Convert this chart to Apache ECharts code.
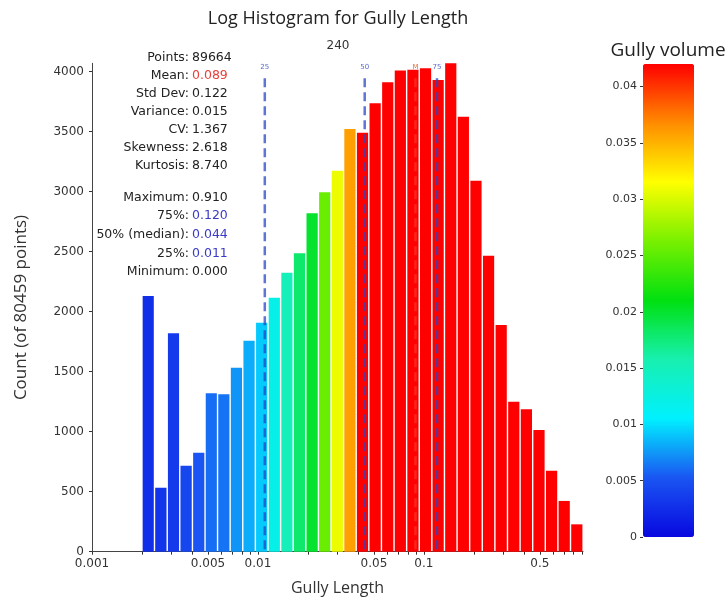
<!DOCTYPE html>
<html>
<head>
<meta charset="utf-8">
<script src="https://cdn.jsdelivr.net/npm/echarts@6/dist/echarts.min.js"></script>
<style>
  html, body { margin: 0; padding: 0; background: #ffffff; }
  #chart { width: 728px; height: 608px; }
</style>
</head>
<body>
<div id="chart"></div>
<script>
// Log-spaced bin edges (gully length) and the count in each bin
const binEdges = [0.00200, 0.00238, 0.00284, 0.00338, 0.00403, 0.00480, 0.00571, 0.00680,
  0.00810, 0.00965, 0.01150, 0.01370, 0.01631, 0.01943, 0.02315, 0.02757, 0.03284, 0.03911,
  0.04659, 0.05550, 0.06611, 0.07874, 0.09379, 0.11172, 0.13307, 0.15851, 0.18881, 0.22490,
  0.26789, 0.31910, 0.38009, 0.45275, 0.53929, 0.64238, 0.76517, 0.91143];
const binCounts = [2131, 533, 1820, 717, 825, 1320, 1312, 1533, 1758, 1908, 2117, 2325,
  2487, 2820, 2995, 3175, 3522, 3492, 3737, 3912, 4010, 4016, 4028, 3931, 4070, 3625,
  3092, 2467, 1889, 1250, 1187, 1014, 675, 423, 228];
// Gully volume of each bin, used for the bar colour
const binVolume = [0.0026, 0.0030, 0.0034, 0.0042, 0.0052, 0.0061, 0.0063, 0.0074, 0.0082,
  0.0092, 0.0120, 0.0150, 0.0180, 0.0200, 0.0256, 0.0308, 0.0359, 0.0440, 0.0470, 0.0500,
  0.0530, 0.0560, 0.0590, 0.0620, 0.0650, 0.0680, 0.0710, 0.0740, 0.0770, 0.0800, 0.0830,
  0.0860, 0.0890, 0.0920, 0.0950];

// Summary statistics
const summaryLabels = ['Points', 'Mean', 'Std Dev', 'Variance', 'CV', 'Skewness', 'Kurtosis'];
const summaryValues = [89664, 0.089, 0.122, 0.015, 1.367, 2.618, 8.740];
const rangeLabels = ['Maximum', '75%', '50% (median)', '25%', 'Minimum'];
const rangeValues = [0.910, 0.120, 0.044, 0.011, 0.000];

// Axis tick labels
const xTickLabels = [0.001, 0.005, 0.01, 0.05, 0.1, 0.5];
const yTickLabels = [0, 500, 1000, 1500, 2000, 2500, 3000, 3500, 4000];
const colorTickLabels = [0, 0.005, 0.01, 0.015, 0.02, 0.025, 0.03, 0.035, 0.04];

const xMin = 0.001;
const xMax = rangeValues[0];
const volumeMax = 0.042;

// Reference lines: quartiles and mean
const markerNames = ['25', '50', 'M', '75'];
const markerValues = [rangeValues[3], rangeValues[2], summaryValues[1], rangeValues[1]];
const markerColors = ['rgba(40,70,200,0.75)', 'rgba(40,70,200,0.75)', 'rgba(255,40,30,0.9)', 'rgba(40,70,200,0.75)'];
const markerTextColors = ['#5a6ac8', '#5a6ac8', '#e86a3a', '#5a6ac8'];

const lg = Math.log10;

// minor ticks at 1..9 x 10^k inside the axis range
const xMinorTicks = [];
for (let d = -3; d <= -1; d++) {
  for (let k = 1; k <= 9; k++) {
    const v = k * Math.pow(10, d);
    if (v <= xMax) xMinorTicks.push(lg(v));
  }
}

const barData = binCounts.map((c, i) => [lg(binEdges[i]), lg(binEdges[i + 1]), c, binVolume[i]]);
const markerData = markerValues.map((v, i) => [lg(v), 0, i]);

const fmtLen = v => String(parseFloat(Math.pow(10, v).toPrecision(3)));
const fmtStat = (v, i) => (i === 0 ? String(v) : v.toFixed(3));

const chart = echarts.init(document.getElementById('chart'), null, { renderer: 'canvas' });

const tickFont = { fontFamily: 'DejaVu Sans', fontSize: 12, color: '#333' };
const statFont = '12.5px "DejaVu Sans"';

const summaryLabelText = summaryLabels.map(s => s + ':').join('\n');
const summaryValueText = summaryValues.map((v, i) => (i === 1 ? '{r|' + fmtStat(v, i) + '}' : fmtStat(v, i))).join('\n');
const rangeLabelText = rangeLabels.map(s => s + ':').join('\n');
const rangeValueText = rangeValues.map((v, i) => (i >= 1 && i <= 3 ? '{b|' + v.toFixed(3) + '}' : v.toFixed(3))).join('\n');

const option = {
  backgroundColor: '#ffffff',
  animation: false,
  grid: [
    { left: 92, right: 145, top: 63.3, bottom: 56.3 },
    { left: 643, top: 64, width: 51, height: 473 }
  ],
  xAxis: [
    {
      type: 'value', gridIndex: 0, min: lg(xMin), max: lg(xMax),
      name: 'Gully Length', nameLocation: 'middle', nameGap: 29,
      nameTextStyle: { fontFamily: 'Open Sans', fontSize: 16, color: '#333' },
      axisLine: { show: true, lineStyle: { color: '#444', width: 1 } },
      axisTick: { show: true, customValues: xMinorTicks, length: 3, lineStyle: { color: '#333' } },
      axisLabel: { customValues: xTickLabels.map(lg), formatter: fmtLen, margin: 6, ...tickFont },
      splitLine: { show: false }
    },
    { type: 'value', gridIndex: 1, min: 0, max: 1, show: false }
  ],
  yAxis: [
    {
      type: 'value', gridIndex: 0, min: 0, max: Math.max(...binCounts),
      name: 'Count (of 80459 points)', nameLocation: 'middle', nameGap: 62,
      nameTextStyle: { fontFamily: 'Open Sans', fontSize: 17, color: '#333' },
      axisLine: { show: true, lineStyle: { color: '#444', width: 1 } },
      axisTick: { show: true, customValues: yTickLabels, length: 3, lineStyle: { color: '#333' } },
      axisLabel: { customValues: yTickLabels, margin: 8, formatter: v => String(v), ...tickFont },
      splitLine: { show: false }
    },
    {
      type: 'value', gridIndex: 1, min: 0, max: volumeMax,
      axisLine: { show: false },
      axisTick: { show: true, customValues: colorTickLabels, length: 3, lineStyle: { color: '#333' } },
      axisLabel: { customValues: colorTickLabels, margin: 6, formatter: v => String(parseFloat(v.toFixed(3))), fontFamily: 'DejaVu Sans', fontSize: 11, color: '#333' },
      splitLine: { show: false }
    }
  ],
  visualMap: {
    type: 'continuous',
    min: 0, max: volumeMax,
    dimension: 3, seriesIndex: 0,
    left: 643, top: 64, itemWidth: 51, itemHeight: 473, padding: 0,
    calculable: false, hoverLink: false,
    inRange: { color: ['#0808e0', '#1a55f2', '#00f0ff', '#18f0b0', '#00e010', '#78f000', '#ffff00', '#ff8c00', '#ff0000'] },
    outOfRange: { color: '#ff0000' }
  },
  graphic: [
    { type: 'text', x: 338, y: 19, style: { text: 'Log Histogram for Gully Length', font: '18px "Open Sans"', fill: '#222', align: 'center', verticalAlign: 'middle' } },
    { type: 'text', x: 338, y: 46, style: { text: '240', font: '12px "DejaVu Sans"', fill: '#333', align: 'center', verticalAlign: 'middle' } },
    { type: 'text', x: 668, y: 51, style: { text: 'Gully volume', font: '19px "Open Sans"', fill: '#222', align: 'center', verticalAlign: 'middle' } },
    { type: 'text', x: 189, y: 49, style: { text: summaryLabelText, font: statFont, fill: '#222', align: 'right', lineHeight: 18 } },
    { type: 'text', x: 192, y: 49, style: { text: summaryValueText, font: statFont, fill: '#222', align: 'left', lineHeight: 18,
      rich: { r: { fill: '#e8403a', font: statFont, lineHeight: 18 } } } },
    { type: 'text', x: 189, y: 188, style: { text: rangeLabelText, font: statFont, fill: '#222', align: 'right', lineHeight: 18.7 } },
    { type: 'text', x: 192, y: 188, style: { text: rangeValueText, font: statFont, fill: '#222', align: 'left', lineHeight: 18.7,
      rich: { b: { fill: '#3a3ac8', font: statFont, lineHeight: 18.7 } } } }
  ],
  series: [
    {
      type: 'custom', xAxisIndex: 0, yAxisIndex: 0,
      encode: { x: [0, 1], y: 2 },
      data: barData,
      renderItem: function (params, api) {
        const p0 = api.coord([api.value(0), 0]);
        const p1 = api.coord([api.value(1), api.value(2)]);
        return {
          type: 'rect',
          shape: { x: p0[0] + 0.7, y: p1[1], width: p1[0] - p0[0] - 1.4, height: p0[1] - p1[1] },
          style: { fill: api.visual('color') }
        };
      }
    },
    {
      type: 'custom', xAxisIndex: 0, yAxisIndex: 0, z: 5,
      encode: { x: 0, y: 1 },
      data: markerData,
      renderItem: function (params, api) {
        const i = api.value(2);
        const base = api.coord([api.value(0), 0]);
        const cs = params.coordSys;
        return {
          type: 'group',
          children: [
            { type: 'line', shape: { x1: base[0], y1: cs.y + 15, x2: base[0], y2: base[1] },
              style: { stroke: markerColors[i], lineWidth: 2.5, lineDash: [9, 5] } },
            { type: 'text', x: base[0], y: cs.y + 4,
              style: { text: markerNames[i], font: '7px "DejaVu Sans"', fill: markerTextColors[i], align: 'center', verticalAlign: 'middle' } }
          ]
        };
      }
    }
  ]
};

chart.setOption(option);
</script>
</body>
</html>
